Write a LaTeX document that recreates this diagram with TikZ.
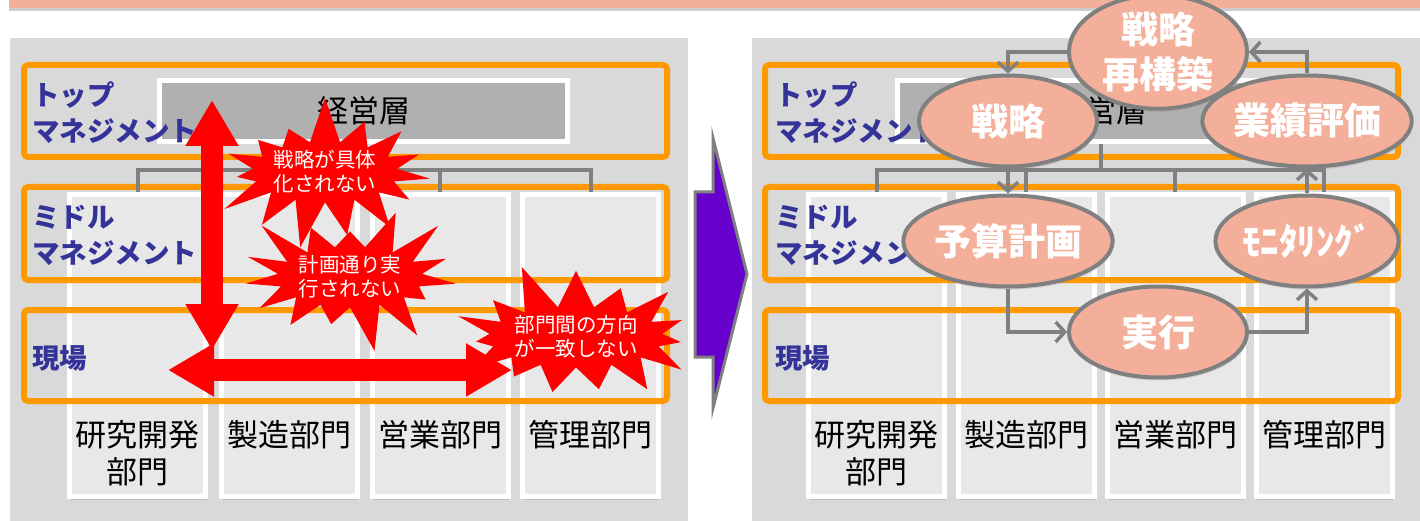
\documentclass[tikz,border=0pt]{standalone}
\usepackage{fontspec}
\setmainfont{Noto Sans CJK JP}
\usetikzlibrary{shapes.geometric,shapes.symbols,shadows,arrows.meta}

\definecolor{panelgray}{HTML}{D9D9D9}
\definecolor{deptgray}{HTML}{E8E8E8}
\definecolor{topgray}{HTML}{B0B0B0}
\definecolor{tiegray}{HTML}{808080}
\definecolor{frameorange}{HTML}{FF9900}
\definecolor{labelblue}{HTML}{333399}
\definecolor{salmon}{HTML}{F4AF9A}
\definecolor{arrowpurple}{HTML}{6600CC}

\tikzset{
  panel/.style={fill=panelgray},
  layer/.style={draw=frameorange, line width=6pt, rounded corners=4pt},
  dept/.style={draw=white, line width=5pt, fill=deptgray,
    minimum width=136pt, minimum height=302pt,
    drop shadow={shadow xshift=1pt, shadow yshift=-3pt, opacity=.3}},
  topbox/.style={draw=white, line width=5pt, fill=topgray,
    minimum width=408pt, minimum height=61pt,
    font=\fontsize{31}{36}\selectfont,
    drop shadow={shadow xshift=1pt, shadow yshift=-3pt, opacity=.3}},
  tie/.style={draw=tiegray, line width=4pt},
  layername/.style={text=labelblue, font=\bfseries\fontsize{27.5}{36}\selectfont,
    align=left, anchor=west, inner sep=0pt},
  deptname/.style={font=\fontsize{31}{37}\selectfont, align=center, inner sep=0pt},
  burst/.style={starburst, fill=red, text=white, align=center, inner sep=0pt,
    font=\fontsize{20.5}{24}\selectfont, starburst points=15,
    starburst point height=48pt},
  stage/.style={ellipse, draw=tiegray, line width=4pt, fill=salmon, text=white,
    font=\bfseries\fontsize{37}{45}\selectfont, align=center, inner sep=0pt,
    minimum width=178pt, minimum height=91pt,
    drop shadow={shadow xshift=1pt, shadow yshift=-3pt, opacity=.25}},
  flow/.style={draw=tiegray, line width=3.5pt, -{Straight Barb[length=9pt,width=20pt]}},
  bigarrow/.style={red, line width=22pt,
    {Triangle[length=46pt,width=50pt]}-{Triangle[length=46pt,width=50pt]}},
}

\begin{document}
\begin{tikzpicture}[x=1pt,y=-1pt]
    \useasboundingbox (0,0) rectangle (1420,521);
    % banner and panels
    \fill[salmon, drop shadow={shadow xshift=0pt, shadow yshift=-3pt, opacity=.4}] (9,-20) rectangle (1440,8);
    \fill[panel] (10,38) rectangle (688,540);
    \fill[panel] (752,38) rectangle (1440,540);

    % left: departments
    \node[dept] (rd) at (137.5,345.5) {};
    \node[dept] (mfg) at (289,345.5) {};
    \node[dept] (sales) at (440,345.5) {};
    \node[dept] (admin) at (590.5,345.5) {};
    \node[topbox] (board) at (363.5,111) {経営層};
    \draw[layer] (24,65) rectangle (667,157);
    \draw[layer] (24,187) rectangle (667,280);
    \draw[layer] (24,310) rectangle (667,401);
    \draw[tie] (board.south) -- ++(0,26) coordinate (lbar);
    \draw[tie] (rd.north) |- (lbar) -| (admin.north);
    \draw[tie] (mfg.north) -- (mfg.north |- lbar);
    \draw[tie] (sales.north) -- (sales.north |- lbar);
    \node[layername] (ltop) at (32,113) {トップ\\マネジメント};
    \node[layername] (lmid) at (32,235) {ミドル\\マネジメント};
    \node[layername] (lsite) at (32,358) {現場};
    \node[deptname] (rdname) at (137.5,453) {研究開発\\部門};
    \node[deptname] (mfgname) at (289,435) {製造部門};
    \node[deptname] (salesname) at (440,435) {営業部門};
    \node[deptname] (adminname) at (590.5,435) {管理部門};

    % left: problems
    \coordinate (vup) at (212,100);
    \coordinate (vdown) at (212,350);
    \coordinate (hleft) at (168,370);
    \coordinate (hright) at (512,370);
    \draw[bigarrow] (vup) -- (vdown);
    \draw[bigarrow] (hleft) -- (hright);
    \node[burst, random starburst=7, minimum width=225pt, minimum height=150pt] (vague) at (325,172) {戦略が具体\\化されない};
    \node[burst, random starburst=3, minimum width=225pt, minimum height=130pt] (drift) at (350,277) {計画通り実\\行されない};
    \node[burst, random starburst=11, minimum width=262pt, minimum height=130pt] (split) at (576,337) {部門間の方向\\が一致しない};

    % big arrow
    \draw[fill=arrowpurple, draw=tiegray, line width=3pt] (695,192) -- (713,192) -- (713,138) -- (747,274)
        -- (713,408) -- (713,357) -- (695,357) -- cycle;

    % right: departments
    \node[dept] (rd2) at (876.5,345.5) {};
    \node[dept] (mfg2) at (1026,345.5) {};
    \node[dept] (sales2) at (1175,345.5) {};
    \node[dept] (admin2) at (1324,345.5) {};
    \node[topbox] (board2) at (1101,111) {経営層};
    \draw[layer] (765,65) rectangle (1398,157);
    \draw[layer] (765,187) rectangle (1398,280);
    \draw[layer] (765,310) rectangle (1398,401);
    \draw[tie] (board2.south) -- ++(0,26) coordinate (rbar);
    \draw[tie] (rd2.north) |- (rbar) -| (admin2.north);
    \draw[tie] (mfg2.north) -- (mfg2.north |- rbar);
    \draw[tie] (sales2.north) -- (sales2.north |- rbar);
    \node[layername] (rtop) at (775,113) {トップ\\マネジメント};
    \node[layername] (rmid) at (775,235) {ミドル\\マネジメント};
    \node[layername] (rsite) at (775,358) {現場};
    \node[deptname] (rdname2) at (876.5,453) {研究開発\\部門};
    \node[deptname] (mfgname2) at (1026,435) {製造部門};
    \node[deptname] (salesname2) at (1175,435) {営業部門};
    \node[deptname] (adminname2) at (1324,435) {管理部門};

    % right: cycle
    \node[stage] (rebuild) at (1158,52) {戦略\\再構築};
    \node[stage] (strategy) at (1008,121) {戦略};
    \node[stage] (review) at (1307,121) {業績評価};
    \node[stage] (budget) at (1008,241) {予算計画};
    \node[stage] (monitor) at (1307,241) {ﾓﾆﾀﾘﾝｸﾞ};
    \node[stage] (exec) at (1158,332) {実行};
    \draw[flow] (rebuild.west) -| (strategy.north);
    \draw[flow] (strategy.south) -- (budget.north);
    \draw[flow] (budget.south) |- (exec.west);
    \draw[flow] (exec.east) -| (monitor.south);
    \draw[flow] (monitor.north) -- (review.south);
    \draw[flow] (review.north) |- (rebuild.east);
\end{tikzpicture}
\end{document}
